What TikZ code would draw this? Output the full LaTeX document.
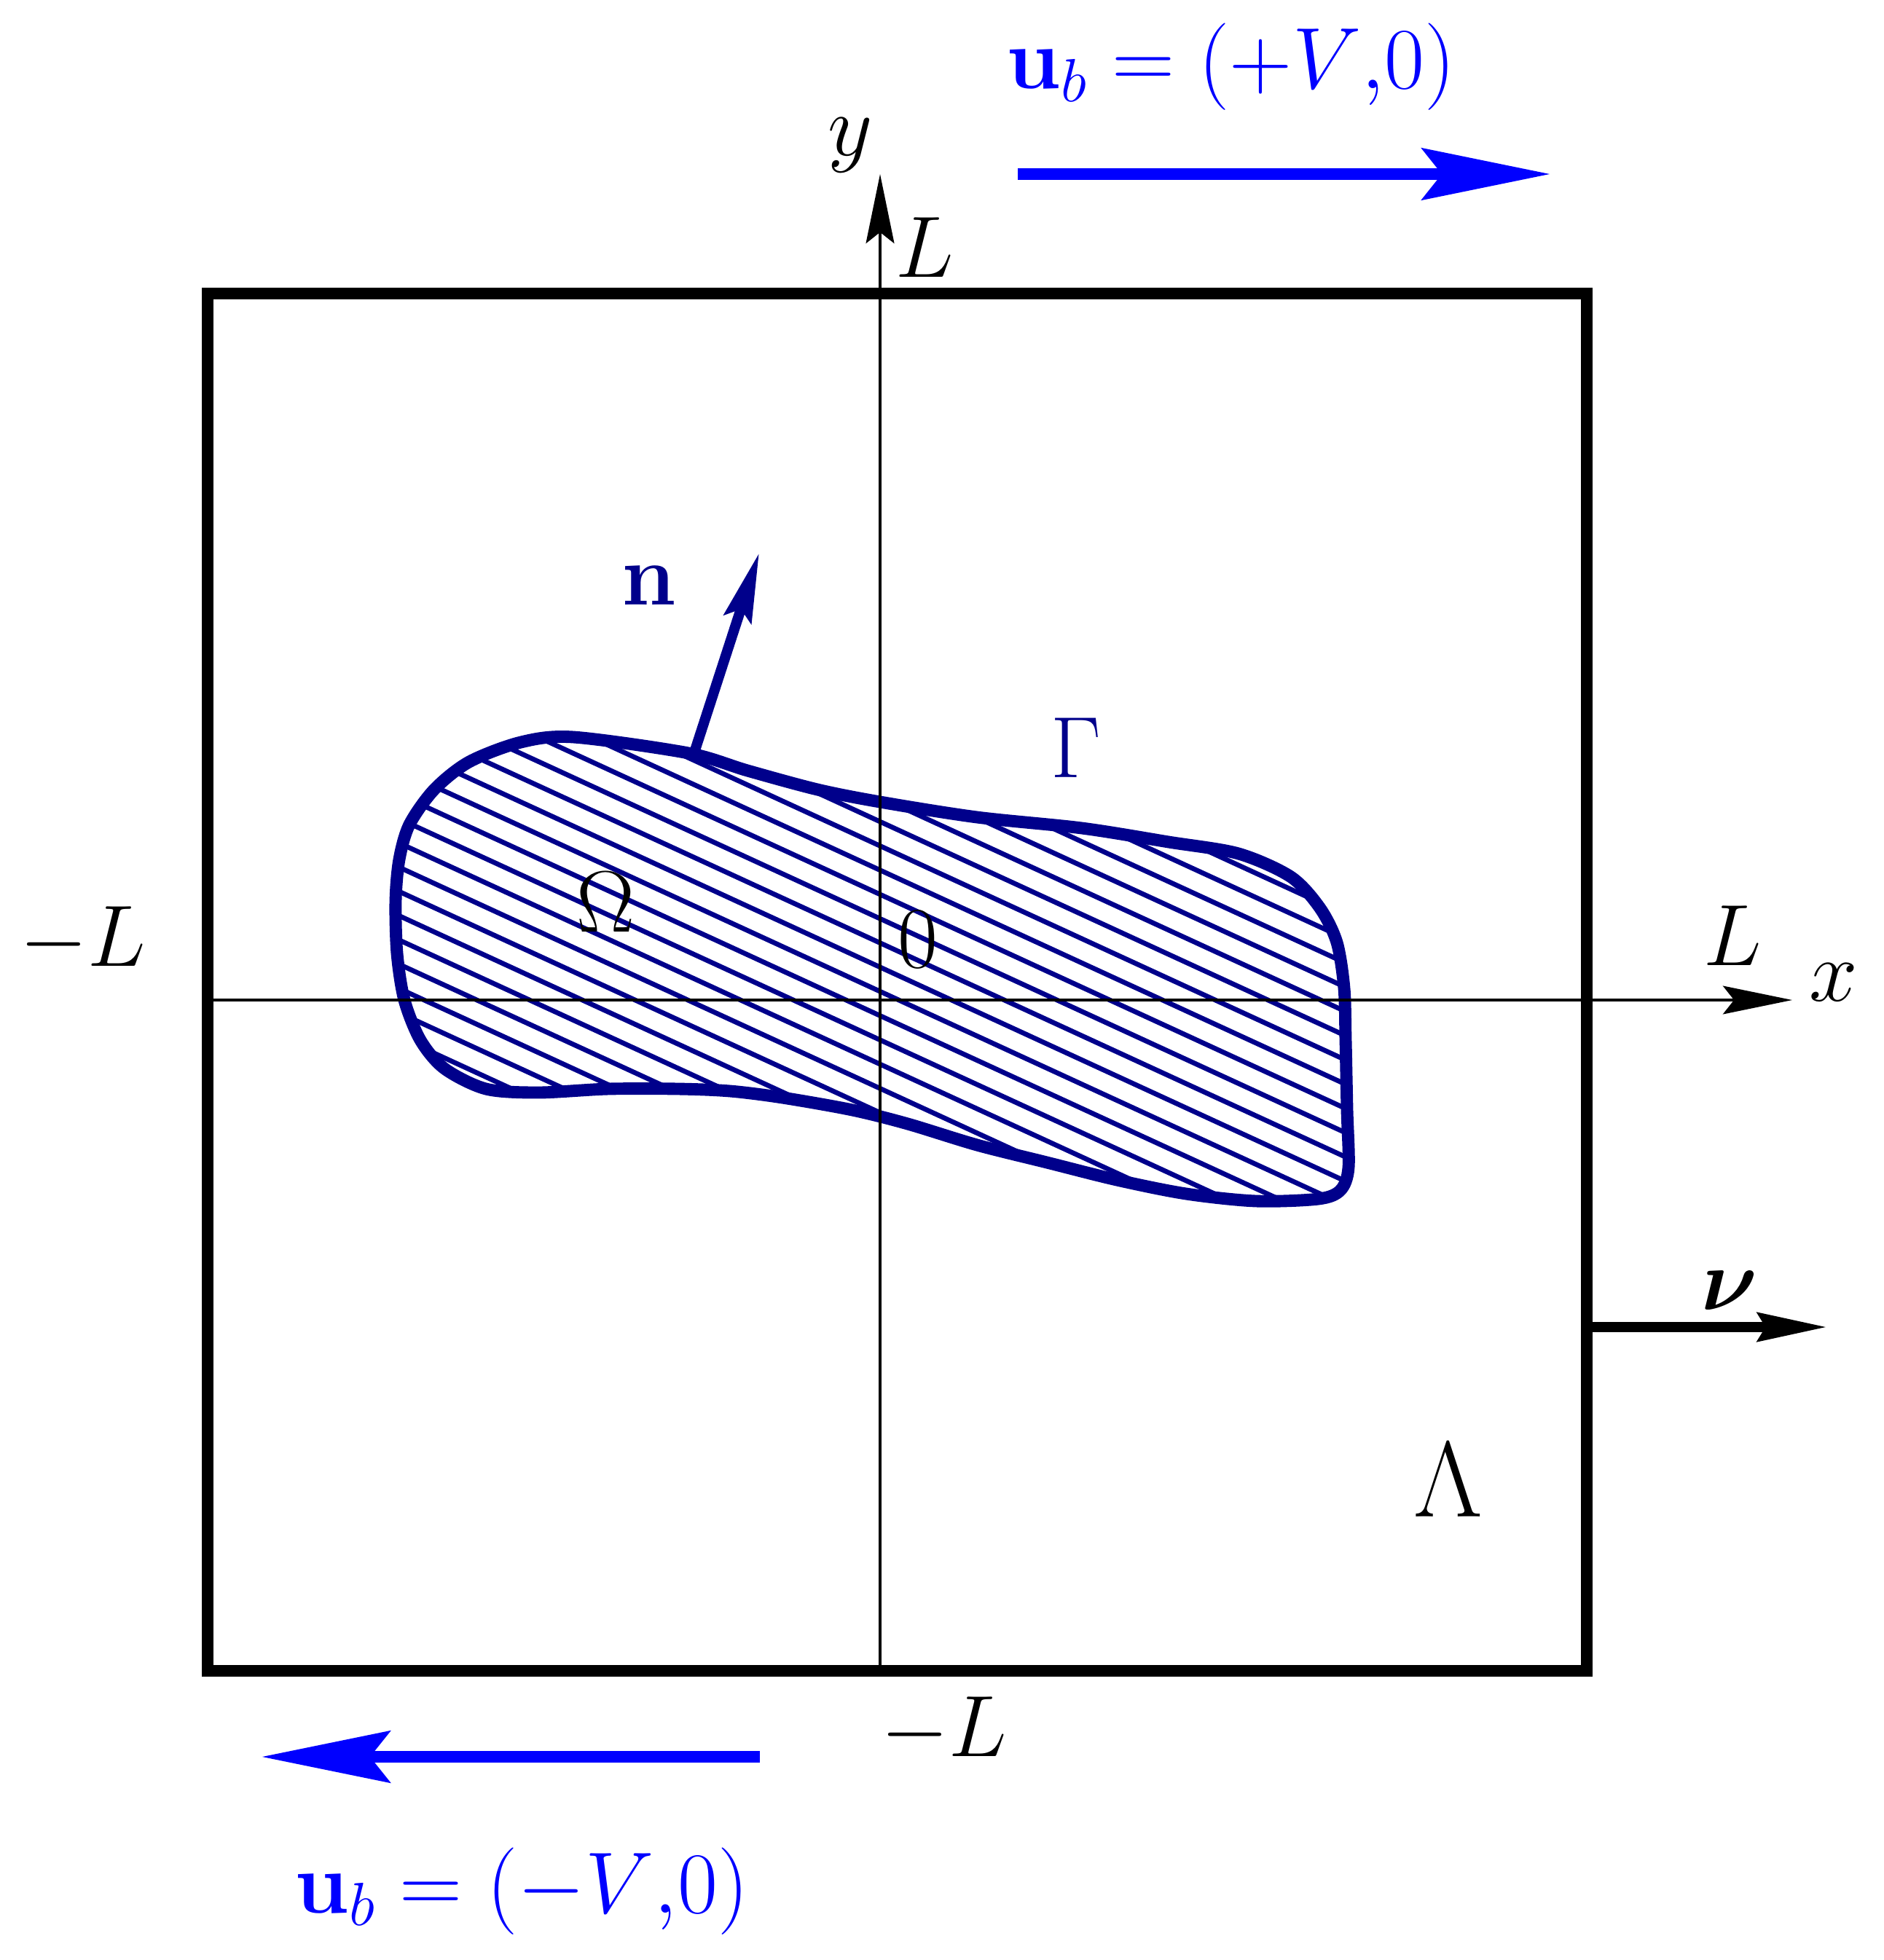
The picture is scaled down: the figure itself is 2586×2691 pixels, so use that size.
\RequirePackage{fix-cm}
\documentclass[tikz,border=0pt]{standalone}
\usepackage{amsmath}
\usetikzlibrary{arrows.meta}
\definecolor{navyb}{RGB}{0,0,139}
\definecolor{pureblue}{RGB}{0,0,255}
\begin{document}
\begin{tikzpicture}[x=0.01cm,y=-0.01cm,
  lbl/.style={anchor=base,inner sep=0pt,font=\fontsize{34}{40}\selectfont},
  biglbl/.style={anchor=base,inner sep=0pt,font=\fontsize{42}{48}\selectfont},
  axisline/.style={line width=1.4pt,-{Stealth[length=27pt,width=11pt,inset=4.3pt]}},
  boxline/.style={line width=4.8pt},
  blobline/.style={line width=4.8pt,draw=navyb},
  hatchline/.style={line width=1.9pt,draw=navyb},
  normalarrow/.style={line width=4pt,draw=navyb,-{Stealth[length=27pt,width=11pt,inset=4pt]}},
  nuarrow/.style={line width=4pt,-{Stealth[length=27pt,width=11pt,inset=3pt]}},
  flowarrow/.style={line width=4.8pt,draw=pureblue,-{Stealth[length=50pt,width=20pt,inset=7.7pt]}}]
\useasboundingbox (0,0) rectangle (2586,2691);

% blob (Omega) with hatching
\def\blobpts{(787,1012) (945,1034) (1026,1058) (1122,1084) (1208,1101) (1341,1122) (1485,1137) (1604,1156) (1700,1172) (1772,1204) (1812,1247) (1835,1294) (1845,1357) (1847,1428) (1849,1524) (1851,1603) (1840,1634) (1810,1646) (1724,1649) (1628,1639) (1533,1620) (1437,1596) (1341,1572) (1246,1543) (1170,1524) (1074,1507) (1002,1498) (931,1495) (835,1495) (739,1500) (667,1495) (610,1467) (577,1428) (555,1373) (545,1309) (543,1237) (548,1180) (562,1132) (596,1084) (644,1046) (715,1019)}
\begin{scope}
  \clip plot[smooth cycle] coordinates {\blobpts};
  \foreach \k in {-14,...,26} {
    \draw[hatchline] (400,{756.4+33.3*\k}) -- (2000,{1492.4+33.3*\k});
  }
\end{scope}
\draw[blobline] plot[smooth cycle] coordinates {\blobpts};

% coordinates
\coordinate (yb) at (1208,2294);
\coordinate (yt) at (1208,239);
\coordinate (xl) at (286,1373);
\coordinate (xr) at (2460,1373);
\coordinate (sqNW) at (285,403);
\coordinate (sqSE) at (2178,2294);
\coordinate (nbase) at (953,1033);
\coordinate (ntip) at (1042,759);
\coordinate (nustart) at (2178,1822);
\coordinate (nutip) at (2508,1822);
\coordinate (topstart) at (1397,239);
\coordinate (toptip) at (2128,239);
\coordinate (botstart) at (1043,2412);
\coordinate (bottip) at (359,2412);

% axes
\draw[axisline] (yb) -- (yt);
\draw[axisline] (xl) -- (xr);

% box Lambda
\draw[boxline] (sqNW) rectangle (sqSE);

% arrows
\draw[normalarrow] (nbase) -- (ntip);
\draw[nuarrow] (nustart) -- (nutip);
\draw[flowarrow] (topstart) -- (toptip);
\draw[flowarrow] (botstart) -- (bottip);

% labels
\node[lbl] (ylab) at (1167,213) {$y$};
\node[lbl] (Ltop) at (1269,380) {$L$};
\node[lbl] (Lleft) at (114,1326) {$-L$};
\node[lbl] (Lright) at (2378,1325) {$L$};
\node[lbl] (xlab) at (2517,1374) {$x$};
\node[lbl] (Lbot) at (1296,2411) {$-L$};
\node[lbl] (zero) at (1260,1328) {$0$};
\node[lbl] (omega) at (831,1279) {$\Omega$};
\node[lbl,text=navyb] (gamma) at (1477,1067) {$\Gamma$};
\node[lbl,text=navyb] (nlab) at (891,830) {$\mathbf{n}$};
\node[biglbl] (lambda) at (1988,2082) {$\Lambda$};
\node[lbl] (nulab) at (2374,1798) {$\boldsymbol{\nu}$};
\node[lbl,text=pureblue] (ubtop) at (1690,122) {$\mathbf{u}_b=(+V{,}0)$};
\node[lbl,text=pureblue] (ubbot) at (716,2626) {$\mathbf{u}_b=(-V{,}0)$};
\end{tikzpicture}
\end{document}
